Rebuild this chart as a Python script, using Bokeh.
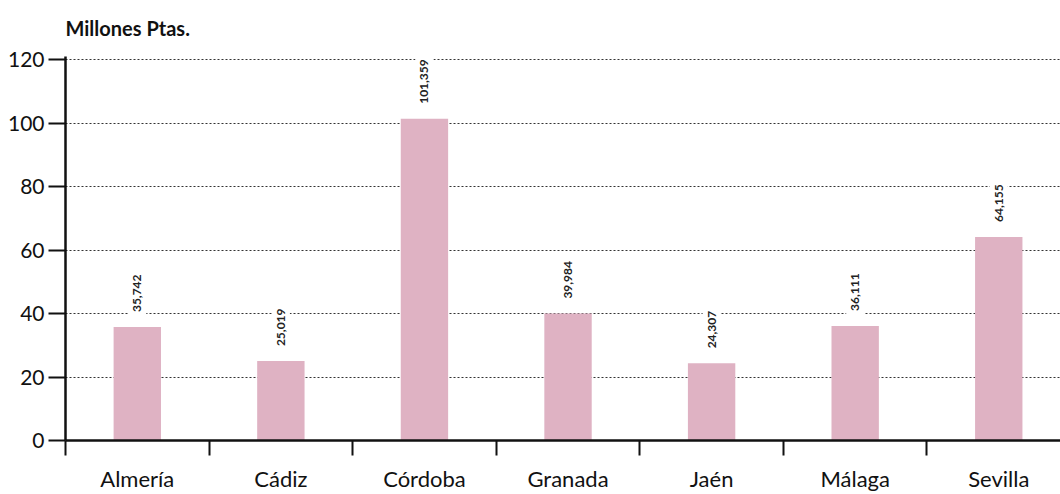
import math
from bokeh.plotting import figure
from bokeh.models import ColumnDataSource, Range1d, FixedTicker
from bokeh.core.properties import value
from bokeh.embed import file_html
from bokeh.resources import INLINE

categories = ["Almería", "Cádiz", "Córdoba", "Granada", "Jaén", "Málaga", "Sevilla"]
values = [35.742, 25.019, 101.359, 39.984, 24.307, 36.111, 64.155]
y_ticks = [0, 20, 40, 60, 80, 100, 120]

FONT = "Lato"
xs = list(range(len(categories)))
labels = [f"{v:.3f}".replace(".", ",") for v in values]
src = ColumnDataSource(dict(x=xs, top=values, lab=labels))

p = figure(width=1060, height=494, output_backend="svg", toolbar_location=None,
           x_range=Range1d(-0.5, 6.43), y_range=Range1d(0, 121),
           min_border_left=65, min_border_right=0, min_border_top=56, min_border_bottom=54)
p.outline_line_color = None
p.background_fill_color = "white"

p.title.text = "Millones Ptas."
p.title.text_font = FONT
p.title.text_font_size = "20px"
p.title.text_font_style = "bold"
p.title.text_color = "#111111"
p.title.align = "left"
p.title.vertical_align = "top"
p.title.standoff = 30

p.vbar(x="x", top="top", width=0.33, bottom=0, source=src,
       fill_color="#dfb2c3", line_color=None)

p.text(x="x", y="top", text="lab", source=src, angle=math.pi / 2,
       text_align="left", text_baseline="middle", y_offset=-10,
       text_font=value(FONT), text_font_size="12px", text_font_style="bold",
       text_color="#222222", background_fill_color="white", padding=5)

# grid
p.xgrid.grid_line_color = None
p.ygrid.ticker = FixedTicker(ticks=y_ticks[1:])
p.ygrid.grid_line_color = "#333333"
p.ygrid.grid_line_dash = "2 2"
p.ygrid.grid_line_width = 1.2

# y axis
ya = p.yaxis[0]
ya.ticker = FixedTicker(ticks=y_ticks)
ya.axis_line_width = 2.5
ya.axis_line_color = "#111111"
ya.major_tick_line_width = 2
ya.major_tick_line_color = "#111111"
ya.major_tick_in = 0
ya.major_tick_out = 17
ya.minor_tick_line_color = None
ya.major_label_standoff = 4
ya.major_label_text_font = FONT
ya.major_label_text_font_size = "21px"
ya.major_label_text_color = "#111111"

# x axis
xa = p.xaxis[0]
xa.ticker = FixedTicker(ticks=xs, minor_ticks=[i - 0.5 for i in range(len(categories) + 1)])
xa.major_label_overrides = {i: c for i, c in enumerate(categories)}
xa.axis_line_width = 2.5
xa.axis_line_color = "#111111"
xa.major_tick_line_color = None
xa.major_tick_in = 0
xa.major_tick_out = 0
xa.minor_tick_line_color = "#111111"
xa.minor_tick_line_width = 2
xa.minor_tick_in = 0
xa.minor_tick_out = 15
xa.major_label_standoff = 9
xa.major_label_text_font = FONT
xa.major_label_text_font_size = "22px"
xa.major_label_text_color = "#111111"

open("out.html", "w").write(file_html(p, INLINE))
